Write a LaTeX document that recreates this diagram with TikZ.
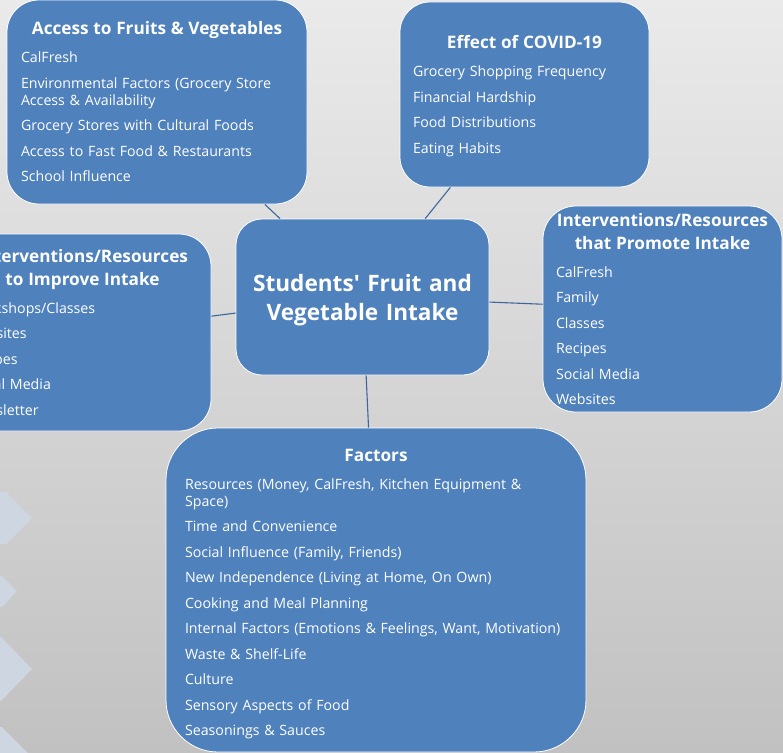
\documentclass[tikz,border=0pt]{standalone}
\usepackage{fontspec}
\setmainfont{Open Sans}
\usepackage{xcolor}
\usetikzlibrary{positioning}

\definecolor{boxblue}{HTML}{4F81BD}
\definecolor{linkblue}{HTML}{3D679A}
\definecolor{bgtop}{HTML}{EAEAEA}
\definecolor{bgbottom}{HTML}{C1C1C1}
\definecolor{chevfill}{HTML}{CED6E1}

% bold heading line on top of each topic box (optional arg: extra room above it)
\newcommand{\boxtitle}[2][0pt]{{\centering\fontsize{17.2}{23}\selectfont\bfseries\rule{0pt}{\dimexpr 12.5pt+#1\relax}#2\par}\vspace{11pt}}

\begin{document}
\begin{tikzpicture}[
    x=1pt, y=-1pt,
    topic/.style={rectangle, draw=white, line width=0.8pt, fill=boxblue, text=white, align=left, inner xsep=13pt, inner ysep=0pt, font=\fontsize{14.2}{17}\selectfont},
    link/.style={draw=linkblue, line width=1.1pt},
    chev/.style={fill=chevfill}
]
\useasboundingbox (0,0) rectangle (783,752);
\clip (0,0) rectangle (783,752);

% backdrop
\shade[top color=bgtop, bottom color=bgbottom] (0,0) rectangle (783,752);

% chevrons at the left edge
\fill[chev] (0,492) -- (6,492) -- (32,518) -- (6,544) -- (0,544) -- cycle;
\fill[chev] (0,576) -- (2,576) -- (17,591) -- (2,607) -- (0,607) -- cycle;
\fill[chev] (0,637) -- (1,637) -- (32,669) -- (1,701) -- (0,701) -- cycle;
\fill[chev] (0,727) -- (2,727) -- (30,755) -- (0,755) -- cycle;

% Centre
\node[topic, minimum width=253pt, minimum height=156pt, text width=227pt, rounded corners=26pt, align=center, font=\fontsize{22.6}{29}\selectfont\bfseries] (intake) at (362.5,297) {\rule{0pt}{23pt}Students\textquotesingle{} Fruit and\\Vegetable Intake};

% Topics around the centre
\node[topic, minimum width=300pt, minimum height=204pt, text width=272pt, inner xsep=14pt, rounded corners=32pt] (access) at (157,102) {\boxtitle{Access to Fruits \& Vegetables}
CalFresh\\[8.5pt]
Environmental Factors (Grocery Store\\Access \& Availability\\[8.5pt]
Grocery Stores with Cultural Foods\\[8.5pt]
Access to Fast Food \& Restaurants\\[8.5pt]
School Influence};

\node[topic, minimum width=249pt, minimum height=185pt, text width=223pt, rounded corners=30pt] (covid) at (524.5,94.5) {\boxtitle[4pt]{Effect of COVID-19}
Grocery Shopping Frequency\\[8.5pt]
Financial Hardship\\[8.5pt]
Food Distributions\\[8.5pt]
Eating Habits};

\node[topic, minimum width=257pt, minimum height=197pt, text width=231pt, rounded corners=32pt] (improve) at (82.5,332.5) {\boxtitle{Interventions/Resources\\to Improve Intake}
Workshops/Classes\\[8.5pt]
Websites\\[8.5pt]
Recipes\\[8.5pt]
Social Media\\[8.5pt]
Newsletter};

\node[topic, minimum width=239pt, minimum height=206pt, text width=213pt, rounded corners=33pt] (promote) at (662.5,309) {\boxtitle{Interventions/Resources\\that Promote Intake}
CalFresh\\[8.5pt]
Family\\[8.5pt]
Classes\\[8.5pt]
Recipes\\[8.5pt]
Social Media\\[8.5pt]
Websites};

\node[topic, minimum width=420pt, minimum height=324pt, text width=390pt, inner xsep=15pt, rounded corners=52pt] (factors) at (376,590) {\leftskip=4pt\boxtitle[8pt]{Factors}
Resources (Money, CalFresh, Kitchen Equipment \&\\Space)\\[8.5pt]
Time and Convenience\\[8.5pt]
Social Influence (Family, Friends)\\[8.5pt]
New Independence (Living at Home, On Own)\\[8.5pt]
Cooking and Meal Planning\\[8.5pt]
Internal Factors (Emotions \& Feelings, Want, Motivation)\\[8.5pt]
Waste \& Shelf-Life\\[8.5pt]
Culture\\[8.5pt]
Sensory Aspects of Food\\[8.5pt]
Seasonings \& Sauces\par};

% Spokes
\draw[link] (intake) -- (access);
\draw[link] (intake) -- (covid);
\draw[link] (intake) -- (improve);
\draw[link] (intake) -- (promote);
\draw[link] (intake) -- (factors);

\end{tikzpicture}
\end{document}
